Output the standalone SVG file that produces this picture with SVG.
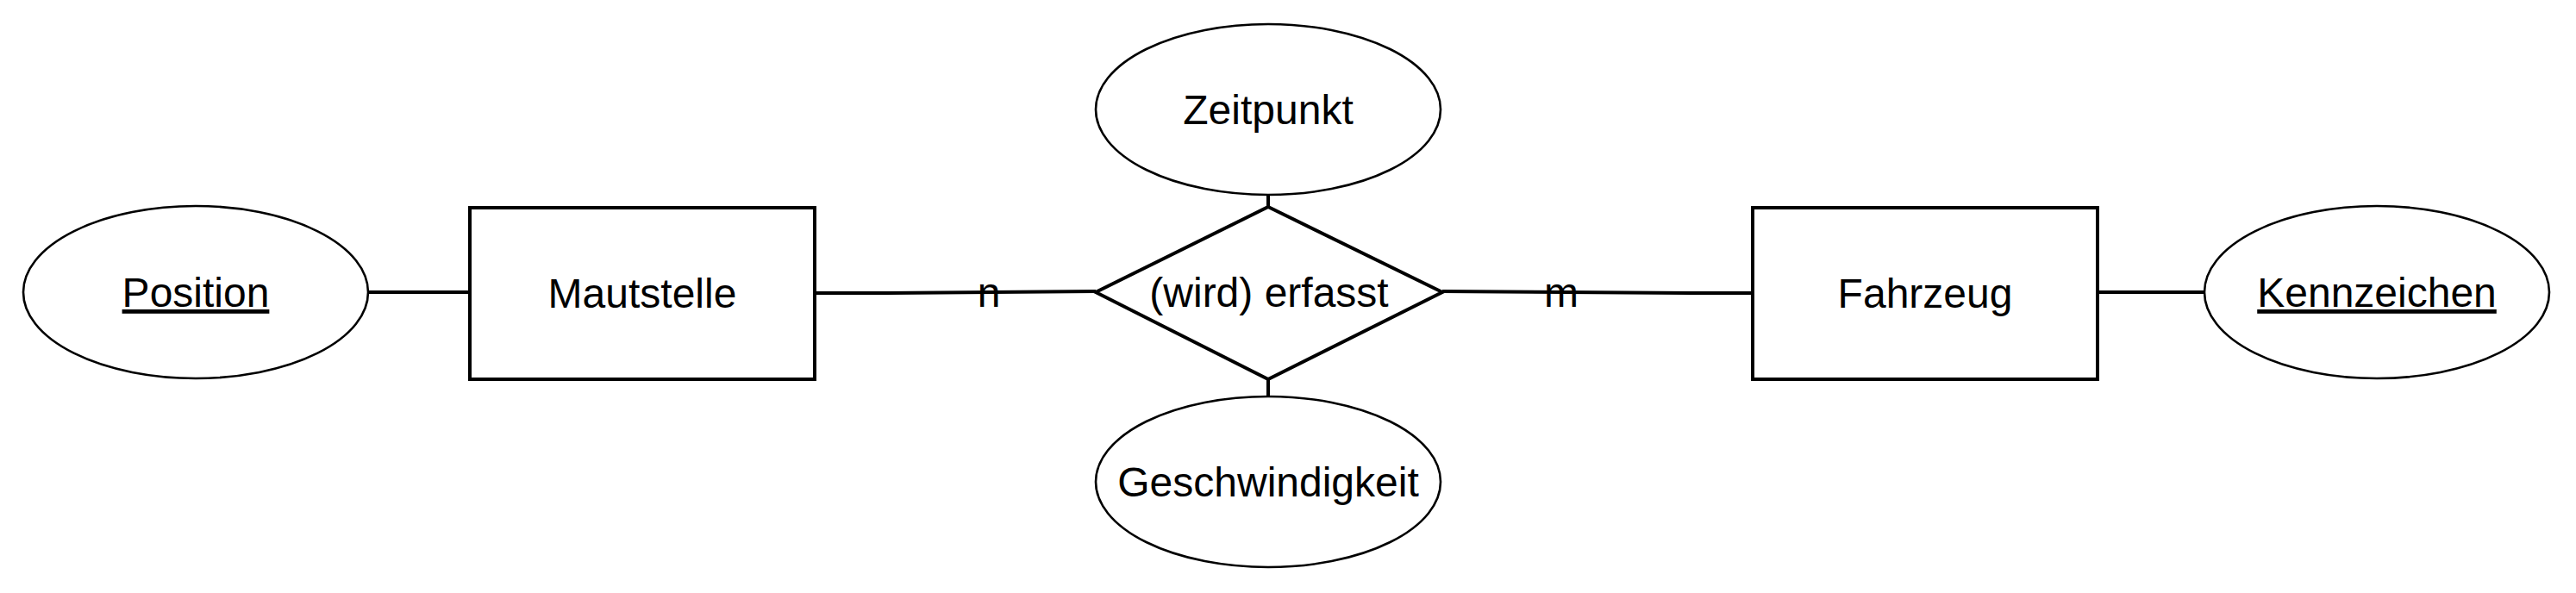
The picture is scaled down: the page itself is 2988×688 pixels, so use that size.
<svg xmlns="http://www.w3.org/2000/svg" width="2988" height="688" viewBox="0 0 2988 688">
<style>
.ent{fill:#fff;stroke:#000;stroke-width:4}
.rel{fill:#fff;stroke:#000;stroke-width:4;stroke-linejoin:miter}
.att{fill:#fff;stroke:#000;stroke-width:2.6}
.lbl{font-family:"Liberation Sans",Arial,sans-serif;font-size:48px;fill:#000;text-anchor:middle}
.key{text-decoration:underline}
.con{fill:none;stroke:#000;stroke-width:4}
</style>
<rect width="2988" height="688" fill="#fff"/>
<g id="connectors">
<path class="con" d="M427 339 L545 339"/>
<path class="con" d="M945 340 L1030 340 L1271 338"/>
<path class="con" d="M1673 338 L1960 340 L2033 340"/>
<path class="con" d="M2433 339 L2557 339"/>
<path class="con" d="M1471 227 L1471 240"/>
<path class="con" d="M1471 440 L1471 459"/>
<text class="lbl" x="1147" y="356">n</text>
<text class="lbl" x="1811" y="356">m</text>
</g>
<g id="position">
<ellipse class="att" cx="227" cy="339" rx="200" ry="100"/>
<text class="lbl key" x="227" y="356">Position</text>
</g>
<g id="mautstelle">
<rect class="ent" x="545" y="241" width="400" height="199"/>
<text class="lbl" x="745" y="357">Mautstelle</text>
</g>
<g id="erfasst">
<polygon class="rel" points="1471,240 1673,339 1471,440 1271,339"/>
<text class="lbl" x="1472" y="356">(wird) erfasst</text>
</g>
<g id="zeitpunkt">
<ellipse class="att" cx="1471" cy="127" rx="200" ry="99"/>
<text class="lbl" x="1471" y="144">Zeitpunkt</text>
</g>
<g id="geschwindigkeit">
<ellipse class="att" cx="1471" cy="559" rx="200" ry="99"/>
<text class="lbl" x="1471" y="576">Geschwindigkeit</text>
</g>
<g id="fahrzeug">
<rect class="ent" x="2033" y="241" width="400" height="199"/>
<text class="lbl" x="2233" y="357">Fahrzeug</text>
</g>
<g id="kennzeichen">
<ellipse class="att" cx="2757" cy="339" rx="200" ry="100"/>
<text class="lbl key" x="2757" y="356">Kennzeichen</text>
</g>
</svg>
